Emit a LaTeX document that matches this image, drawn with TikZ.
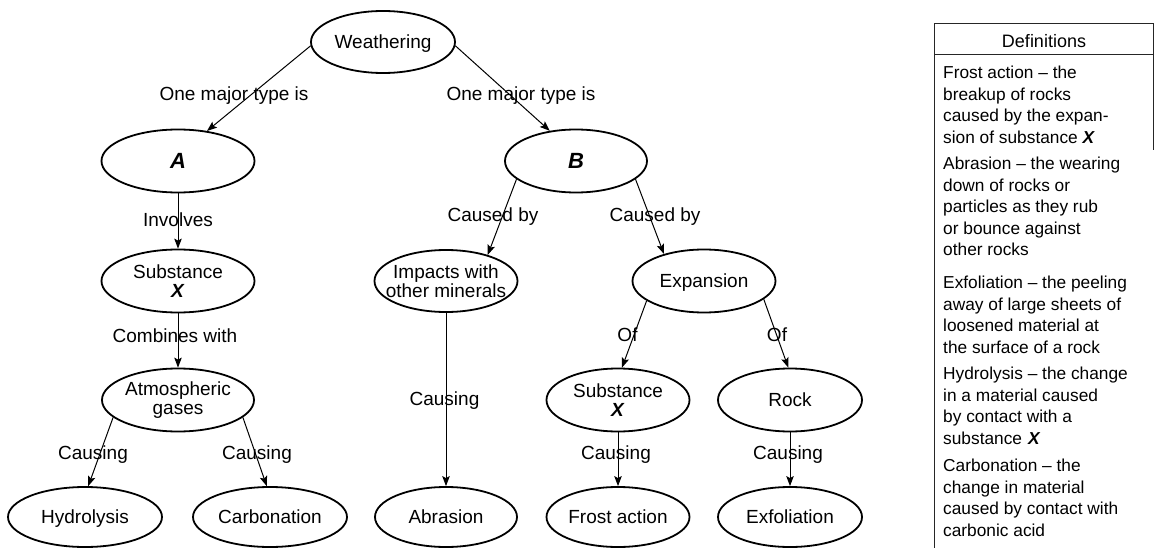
\documentclass[tikz,border=0pt]{standalone}
\usepackage{fontspec}
\setmainfont{Liberation Sans}
\usetikzlibrary{shapes.geometric,arrows.meta}
\newcommand{\varX}{\textbf{\textit{X}}}
\begin{document}
\begin{tikzpicture}[x=1pt,y=-1pt,
  concept/.style={ellipse, draw, line width=1.8pt, inner sep=0pt,
    minimum width=144pt, minimum height=62pt, align=center,
    font=\fontsize{19}{19}\selectfont},
  oneline/.style={text height=17.5pt, text depth=4pt},
  link/.style={draw, line width=1pt, -{Stealth[length=10pt,width=7.5pt,inset=2pt]}},
  lbl/.style={font=\fontsize{19}{19}\selectfont, inner sep=0pt},
  defn/.style={anchor=north west, align=left, inner sep=0pt,
    font=\fontsize{17.3}{21.5}\selectfont},
  bigletter/.style={font=\fontsize{22}{22}\selectfont\bfseries\itshape}]
\useasboundingbox (0,0) rectangle (1156,548);

% concept nodes
\node[concept, oneline] (weath) at (383,42) {Weathering};
\node[concept, bigletter, minimum width=153pt, minimum height=63pt] (typeA) at (178,161) {A};
\node[concept, bigletter, minimum width=142pt, minimum height=63pt] (typeB) at (576,161) {B};
\node[concept, minimum width=153pt, minimum height=63pt] (subL) at (178,281) {Substance\\\varX};
\node[concept, minimum width=152pt, minimum height=63pt] (atmo) at (178,400) {Atmospheric\\gases};
\node[concept, oneline, minimum width=154pt, minimum height=60pt] (hydro) at (85,517) {Hydrolysis};
\node[concept, oneline, minimum width=154pt, minimum height=60pt] (carbo) at (270,517) {Carbonation};
\node[concept, minimum width=143pt, minimum height=62pt, inner xsep=-10pt] (impact) at (446,281) {Impacts with\\other minerals};
\node[concept, oneline, minimum width=143pt, minimum height=63pt] (expan) at (704,281) {Expansion};
\node[concept, oneline, minimum width=142pt, minimum height=60pt] (abras) at (446,517) {Abrasion};
\node[concept, minimum width=143pt, minimum height=63pt] (subR) at (618,400) {Substance\\\varX};
\node[concept, oneline, minimum width=144pt, minimum height=63pt] (rock) at (790,400) {Rock};
\node[concept, oneline, minimum width=143pt, minimum height=60pt] (frost) at (618,517) {Frost action};
\node[concept, oneline, minimum width=144pt, minimum height=60pt] (exfol) at (790,517) {Exfoliation};

% connectors
\draw[link] (weath.183) -- (typeA.46);
\draw[link] (weath.357) -- (typeB.131);
\draw[link] (typeA.south) -- (subL.north);
\draw[link] (subL.south) -- (atmo.north);
\draw[link] (atmo.195) -- (hydro.84);
\draw[link] (atmo.345) -- (carbo.96);
\draw[link] (typeB.197) -- (impact.32);
\draw[link] (typeB.343) -- (expan.146);
\draw[link] (impact.south) -- (abras.north);
\draw[link] (expan.199) -- (subR.83);
\draw[link] (expan.343) -- (rock.93);
\draw[link] (subR.south) -- (frost.north);
\draw[link] (rock.south) -- (exfol.north);

% connector labels
\node[lbl] (lA) at (234,96) {One major type is};
\node[lbl] (lB) at (521,96) {One major type is};
\node[lbl] (lInv) at (178,220) {Involves};
\node[lbl] (lComb) at (175,336) {Combines with};
\node[lbl] (lHyd) at (93,455) {Causing};
\node[lbl] (lCarb) at (257,455) {Causing};
\node[lbl] (lImp) at (493,217) {Caused by};
\node[lbl] (lExp) at (655,217) {Caused by};
\node[lbl] (lAbr) at (444.5,401) {Causing};
\node[lbl] (lOfL) at (627.5,335) {Of};
\node[lbl] (lOfR) at (777,335) {Of};
\node[lbl] (lFro) at (616,455) {Causing};
\node[lbl] (lExf) at (788,455) {Causing};

% definitions panel
\draw[line width=0.9pt, black!85] (934,548) -- (934,23) -- (1153,23) -- (1153,150);
\draw[line width=0.9pt, black!85] (934,54) -- (1153,54);
\node[font=\fontsize{18}{18}\selectfont, inner sep=0pt] (dhead) at (1044,41) {Definitions};
\node[defn] (dfrost) at (943,66) {Frost action – the\\breakup of rocks\\caused by the expan-\\sion of substance \varX};
\node[defn] (dabr) at (943,157) {Abrasion – the wearing\\down of rocks or\\particles as they rub\\or bounce against\\other rocks};
\node[defn] (dexf) at (943,276) {Exfoliation – the peeling\\away of large sheets of\\loosened material at\\the surface of a rock};
\node[defn] (dhyd) at (943,367) {Hydrolysis – the change\\in a material caused\\by contact with a\\substance\hspace{6pt}\varX};
\node[defn] (dcarb) at (943,459) {Carbonation – the\\change in material\\caused by contact with\\carbonic acid};
\end{tikzpicture}
\end{document}
